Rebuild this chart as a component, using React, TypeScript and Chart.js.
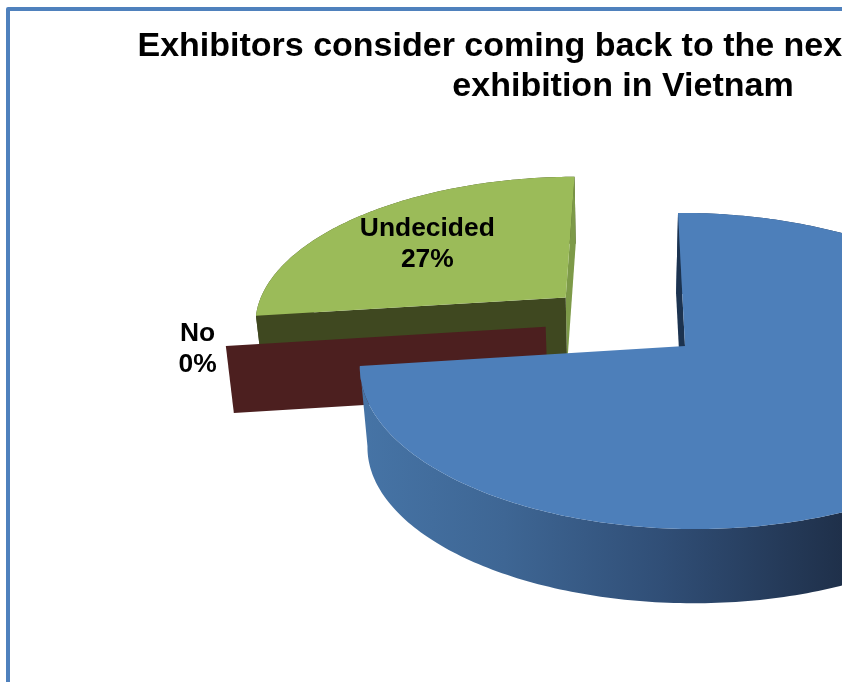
import { useEffect, useRef } from "react";
import { Chart, registerables } from "chart.js";

Chart.register(...registerables);

const categories = ["Yes", "No", "Undecided"];
const shares = [73, 0, 27];
const titleLines = ["Exhibitors consider coming back to the next" + "\u00A0".repeat(27), "exhibition in Vietnam"];

const topColors = ["#4d7fba", "#c0504d", "#9bbb59"];
const startFaceColors = ["#1c3350", "#4c1f1f", "#3f4820"];
const endFaceColors = ["#1c3350", "#4c1f1f", "#7d9a48"];
// Exploded slices: distance in radii and clockwise bearing from twelve o'clock.
const explodeDistance = [0, 0.455, 0.505];
const explodeBearing = [0, 288.4, 313.2];
const sliceDepth = [81, 67, 67];
const labelRadius = [0.95, 1.086, 0.644];
const labelBearingShift = [0, -0.7, -1.5];

const FONT = "'Liberation Sans', Arial, sans-serif";
const CANVAS_W = 1246;
const CANVAS_H = 682;

type Pt = { x: number; y: number };

// Tilted-disc projection: the far side of the pie shrinks towards the horizon,
// and the disc leans a little so the left rim sits lower than the right.
function projector(el: any) {
  const R = el.outerRadius;
  const ax = el.x + R * 0.2157;
  const ay = el.y - R * 0.1687;
  const sx = R * 1.1256;
  const sy = R * 0.5357;
  const top = (u: number, v: number): Pt => {
    const w = 1 - 0.158 * v;
    const X = (sx * u) / w;
    const Y = (sy * v) / w;
    return { x: ax + X + 0.126 * Y, y: ay + Y - 0.0177 * X };
  };
  const drop = (p: Pt, depth: number): Pt => ({
    x: p.x + Math.min(8, 0.03 * (ax - 71 - p.x)),
    y: p.y + depth - 0.037 * Math.max(0, p.y - ay),
  });
  return { top, drop };
}

function fillPath(ctx: CanvasRenderingContext2D, pts: Pt[], fill: string | CanvasGradient) {
  ctx.beginPath();
  pts.forEach((p, i) => (i ? ctx.lineTo(p.x, p.y) : ctx.moveTo(p.x, p.y)));
  ctx.closePath();
  ctx.fillStyle = fill;
  ctx.fill();
}

const pie3d = {
  id: "pie3d",
  beforeDraw(chart: any) {
    const { ctx } = chart;
    ctx.save();
    ctx.fillStyle = "#ffffff";
    ctx.fillRect(0, 0, chart.width, chart.height);
    ctx.strokeStyle = "#4f81bd";
    ctx.lineWidth = 4;
    ctx.lineJoin = "round";
    ctx.strokeRect(8, 9, chart.width + 40, chart.height + 40);
    ctx.restore();
  },
  beforeDatasetDraw(chart: any, args: any) {
    const { ctx } = chart;
    const arcs = args.meta.data;
    const sideFill = ctx.createLinearGradient(360, 0, 842, 0);
    sideFill.addColorStop(0, "#4674a6");
    sideFill.addColorStop(0.3, "#3e6694");
    sideFill.addColorStop(0.63, "#304e76");
    sideFill.addColorStop(1, "#1f304a");

    // Back slices first so the unexploded slice sits in front of them.
    [2, 1, 0].forEach((i) => {
      const el = arcs[i];
      const { top, drop } = projector(el);
      const b = (explodeBearing[i] * Math.PI) / 180;
      const ou = explodeDistance[i] * Math.sin(b);
      const ov = -explodeDistance[i] * Math.cos(b);
      const at = (angle: number, r: number) => top(ou + r * Math.cos(angle), ov + r * Math.sin(angle));
      const depth = sliceDepth[i];
      const apex = at(el.startAngle, 0);
      const rim: Pt[] = [];
      const span = el.endAngle - el.startAngle;
      const steps = Math.max(1, Math.ceil(Math.abs(span) * 60));
      for (let s = 0; s <= steps; s++) rim.push(at(el.startAngle + (span * s) / steps, 1));

      if (span > 0) {
        const lower = rim.map((p) => drop(p, depth)).reverse();
        fillPath(ctx, [...rim, ...lower], i === 0 ? sideFill : startFaceColors[i]);
      }
      if (Math.cos(el.endAngle) > -0.06 && span > 0) {
        const e = rim[rim.length - 1];
        fillPath(ctx, [e, apex, drop(apex, depth), drop(e, depth)], endFaceColors[i]);
      }
      if (-Math.cos(el.startAngle) > -0.06) {
        const s = rim[0];
        fillPath(ctx, [s, apex, drop(apex, depth), drop(s, depth)], startFaceColors[i]);
      }
      if (span > 0) fillPath(ctx, [apex, ...rim], topColors[i]);
    });
    return false;
  },
  afterDatasetsDraw(chart: any) {
    const { ctx } = chart;
    const arcs = chart.getDatasetMeta(0).data;
    ctx.save();
    ctx.fillStyle = "#000000";
    ctx.font = `bold 26.4px ${FONT}`;
    ctx.textAlign = "center";
    ctx.textBaseline = "middle";
    categories.forEach((name, i) => {
      const el = arcs[i];
      const { top } = projector(el);
      const b = (explodeBearing[i] * Math.PI) / 180;
      const mid = (el.startAngle + el.endAngle) / 2 + (labelBearingShift[i] * Math.PI) / 180;
      const p = top(
        explodeDistance[i] * Math.sin(b) + labelRadius[i] * Math.cos(mid),
        -explodeDistance[i] * Math.cos(b) + labelRadius[i] * Math.sin(mid),
      );
      ctx.fillText(name, p.x, p.y - 15.5);
      ctx.fillText(`${shares[i]}%`, p.x, p.y + 15.5);
    });
    ctx.restore();
  },
};

export default function App() {
  const ref = useRef<HTMLCanvasElement>(null);
  useEffect(() => {
    const chart = new Chart(ref.current!, {
      type: "pie",
      data: {
        labels: categories,
        datasets: [{ data: shares, backgroundColor: topColors, borderWidth: 0 }],
      },
      options: {
        animation: false,
        responsive: false,
        devicePixelRatio: 1,
        events: [],
        rotation: 2,
        layout: { padding: 0 },
        plugins: {
          legend: { display: false },
          tooltip: { enabled: false },
          title: {
            display: true,
            text: titleLines,
            color: "#000000",
            align: "center",
            font: { family: FONT, size: 34, weight: "bold", lineHeight: 40 / 34 },
            padding: { top: 27, bottom: 0 },
          },
        },
      },
      plugins: [pie3d],
    } as any);
    return () => chart.destroy();
  }, []);
  return (
    <div style={{ position: "fixed", left: 0, top: 0, width: 842, height: 682, overflow: "hidden", background: "#fff" }}>
      <canvas ref={ref} width={CANVAS_W} height={CANVAS_H} style={{ display: "block" }} />
    </div>
  );
}
